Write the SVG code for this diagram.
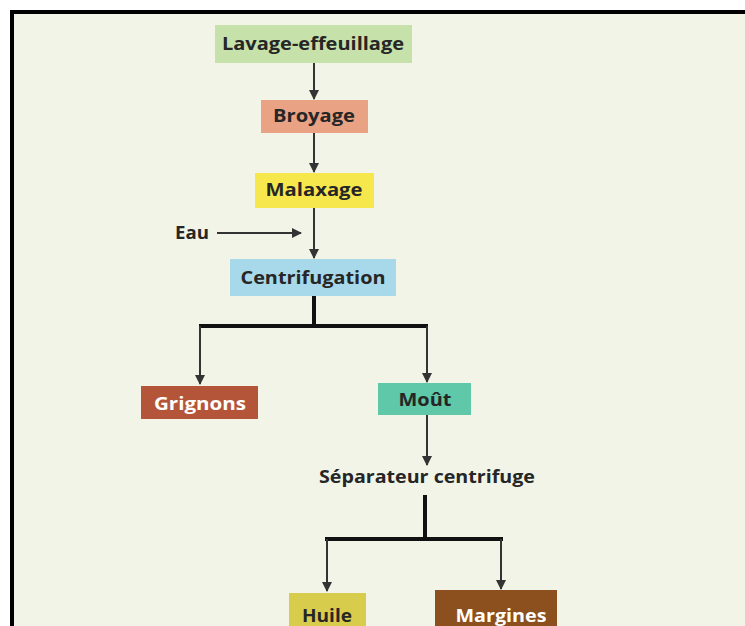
<svg xmlns="http://www.w3.org/2000/svg" width="745" height="626" viewBox="0 0 745 626">
<defs>
<style>
.t{font-family:"Open Sans","Liberation Sans",sans-serif;font-weight:700;font-size:17px;fill:#262626;text-anchor:middle}
.w{fill:#ffffff}
.ln{stroke:#333;stroke-width:2;fill:none}
.th{stroke:#111;stroke-width:4;fill:none}
</style>
<marker id="ah" viewBox="0 0 10 10" refX="9" refY="5" markerWidth="5.5" markerHeight="5" orient="auto" markerUnits="strokeWidth">
<path d="M0,0 L10,5 L0,10 z" fill="#333"/>
</marker>
</defs>
<rect x="0" y="0" width="745" height="626" fill="#ffffff"/>
<rect x="12" y="12" width="733" height="614" fill="#f1f4e6"/>
<path d="M12,626 L12,12 L745,12" stroke="#000" stroke-width="4" fill="none"/>

<g id="connectors">
<line class="ln" x1="314" y1="63" x2="314" y2="99" marker-end="url(#ah)"/>
<line class="ln" x1="314" y1="133" x2="314" y2="172" marker-end="url(#ah)"/>
<line class="ln" x1="314" y1="208" x2="314" y2="258" marker-end="url(#ah)"/>
<line class="ln" x1="217" y1="233" x2="301" y2="233" marker-end="url(#ah)"/>
<path class="th" d="M314,296 L314,326 M199,326 L428,326"/>
<line class="ln" x1="200" y1="326" x2="200" y2="384" marker-end="url(#ah)"/>
<line class="ln" x1="427" y1="326" x2="427" y2="382" marker-end="url(#ah)"/>
<line class="ln" x1="427" y1="415" x2="427" y2="465" marker-end="url(#ah)"/>
<path class="th" d="M425,495 L425,539 M325,539 L503,539"/>
<line class="ln" x1="327" y1="539" x2="327" y2="591" marker-end="url(#ah)"/>
<line class="ln" x1="501" y1="539" x2="501" y2="589" marker-end="url(#ah)"/>
</g>

<g id="lavage">
<rect x="215" y="25" width="197" height="38" fill="#c6e1aa"/>
<text class="t" x="313" y="50" textLength="182" lengthAdjust="spacingAndGlyphs">Lavage-effeuillage</text>
</g>
<g id="broyage">
<rect x="261" y="100" width="107" height="33" fill="#e9a283"/>
<text class="t" x="314" y="122" textLength="82" lengthAdjust="spacingAndGlyphs">Broyage</text>
</g>
<g id="malaxage">
<rect x="255" y="173" width="119" height="35" fill="#f6e84c"/>
<text class="t" x="314" y="196" textLength="97" lengthAdjust="spacingAndGlyphs">Malaxage</text>
</g>
<g id="eau">
<text class="t" x="192" y="239" textLength="34" lengthAdjust="spacingAndGlyphs">Eau</text>
</g>
<g id="centrifugation">
<rect x="230" y="259" width="166" height="37" fill="#a8d9ea"/>
<text class="t" x="313" y="284" textLength="145" lengthAdjust="spacingAndGlyphs">Centrifugation</text>
</g>
<g id="grignons">
<rect x="141" y="386" width="117" height="33" fill="#b4553a"/>
<text class="t w" x="200" y="410" textLength="92" lengthAdjust="spacingAndGlyphs">Grignons</text>
</g>
<g id="mout">
<rect x="378" y="383" width="93" height="32" fill="#5ec8a8"/>
<text class="t" x="425" y="406" textLength="53" lengthAdjust="spacingAndGlyphs">Moût</text>
</g>
<g id="separateur">
<text class="t" x="427" y="483" textLength="216" lengthAdjust="spacingAndGlyphs">Séparateur centrifuge</text>
</g>
<g id="huile">
<rect x="289" y="593" width="77" height="33" fill="#d8cc4c"/>
<text class="t" x="327" y="622" textLength="50" lengthAdjust="spacingAndGlyphs">Huile</text>
</g>
<g id="margines">
<rect x="435" y="590" width="122" height="36" fill="#8c501e"/>
<text class="t w" x="501" y="622" textLength="91" lengthAdjust="spacingAndGlyphs">Margines</text>
</g>
</svg>
